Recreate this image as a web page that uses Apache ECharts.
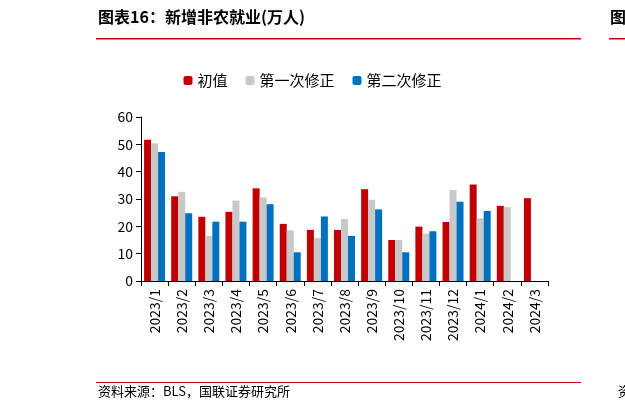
<!DOCTYPE html>
<html><head><meta charset="utf-8">
<script src="https://cdn.jsdelivr.net/npm/echarts@6/dist/echarts.min.js"></script>
<style>body{margin:0;background:#fff}#c{width:625px;height:409px}</style>
</head><body><div id="c"></div>
<script>
var categories = ['2023/1','2023/2','2023/3','2023/4','2023/5','2023/6','2023/7','2023/8','2023/9','2023/10','2023/11','2023/12','2024/1','2024/2','2024/3'];
var initial = [51.7, 31.0, 23.5, 25.3, 33.9, 20.9, 18.7, 18.7, 33.6, 15.0, 19.9, 21.6, 35.3, 27.5, 30.3];
var firstRev = [50.4, 32.6, 16.5, 29.4, 30.6, 18.5, 15.7, 22.7, 29.7, 15.0, 17.3, 33.3, 22.9, 27.0, null];
var secondRev = [47.2, 24.8, 21.7, 21.7, 28.1, 10.5, 23.6, 16.5, 26.2, 10.5, 18.2, 29.0, 25.6, null, null];
var yTicks = [0, 10, 20, 30, 40, 50, 60];

var font = '"Noto Sans CJK SC", sans-serif';
var chart = echarts.init(document.getElementById('c'));
chart.setOption({
  animation: false,
  textStyle: {fontFamily: font},
  graphic: [
    {type: 'text', left: 98, top: 9, style: {text: '图表16：新增非农就业(万人)', font: 'bold 16px ' + font, fill: '#000'}},
    {type: 'rect', shape: {x: 96, y: 38, width: 485, height: 1.5}, style: {fill: '#c00000'}},
    {type: 'text', left: 610, top: 9, style: {text: '图', font: 'bold 16px ' + font, fill: '#000'}},
    {type: 'rect', shape: {x: 609, y: 38, width: 20, height: 1.5}, style: {fill: '#c00000'}},
    {type: 'rect', shape: {x: 96, y: 382, width: 485, height: 1}, style: {fill: '#c00000'}},
    {type: 'text', left: 98, top: 385, style: {text: '资料来源：BLS，国联证券研究所', font: '13px ' + font, fill: '#000'}},
    {type: 'text', left: 618, top: 385, style: {text: '资', font: '13px ' + font, fill: '#000'}}
  ],
  legend: {
    top: 68, left: 'center', itemWidth: 9, itemHeight: 9, itemGap: 18,
    textStyle: {fontSize: 15, color: '#000', fontFamily: font},
    data: ['初值', '第一次修正', '第二次修正']
  },
  grid: {left: 141, right: 77, top: 117, bottom: 128},
  xAxis: {
    type: 'category', data: categories,
    axisLine: {lineStyle: {color: '#000'}},
    axisTick: {show: true, lineStyle: {color: '#000'}},
    axisLabel: {rotate: 90, interval: 0, fontSize: 14, color: '#000', fontFamily: font}
  },
  yAxis: {
    type: 'value', min: yTicks[0], max: yTicks[yTicks.length - 1], interval: 10,
    axisLine: {show: true, lineStyle: {color: '#000'}},
    axisTick: {show: true, lineStyle: {color: '#000'}},
    splitLine: {show: false},
    axisLabel: {fontSize: 14, color: '#000', fontFamily: font}
  },
  series: [
    {name: '初值', type: 'bar', data: initial, barWidth: 7, barGap: '0%', itemStyle: {color: '#c00000'}},
    {name: '第一次修正', type: 'bar', data: firstRev, barWidth: 7, itemStyle: {color: '#c8c8c8'}},
    {name: '第二次修正', type: 'bar', data: secondRev, barWidth: 7, itemStyle: {color: '#0070c0'}}
  ]
});
</script></body></html>
